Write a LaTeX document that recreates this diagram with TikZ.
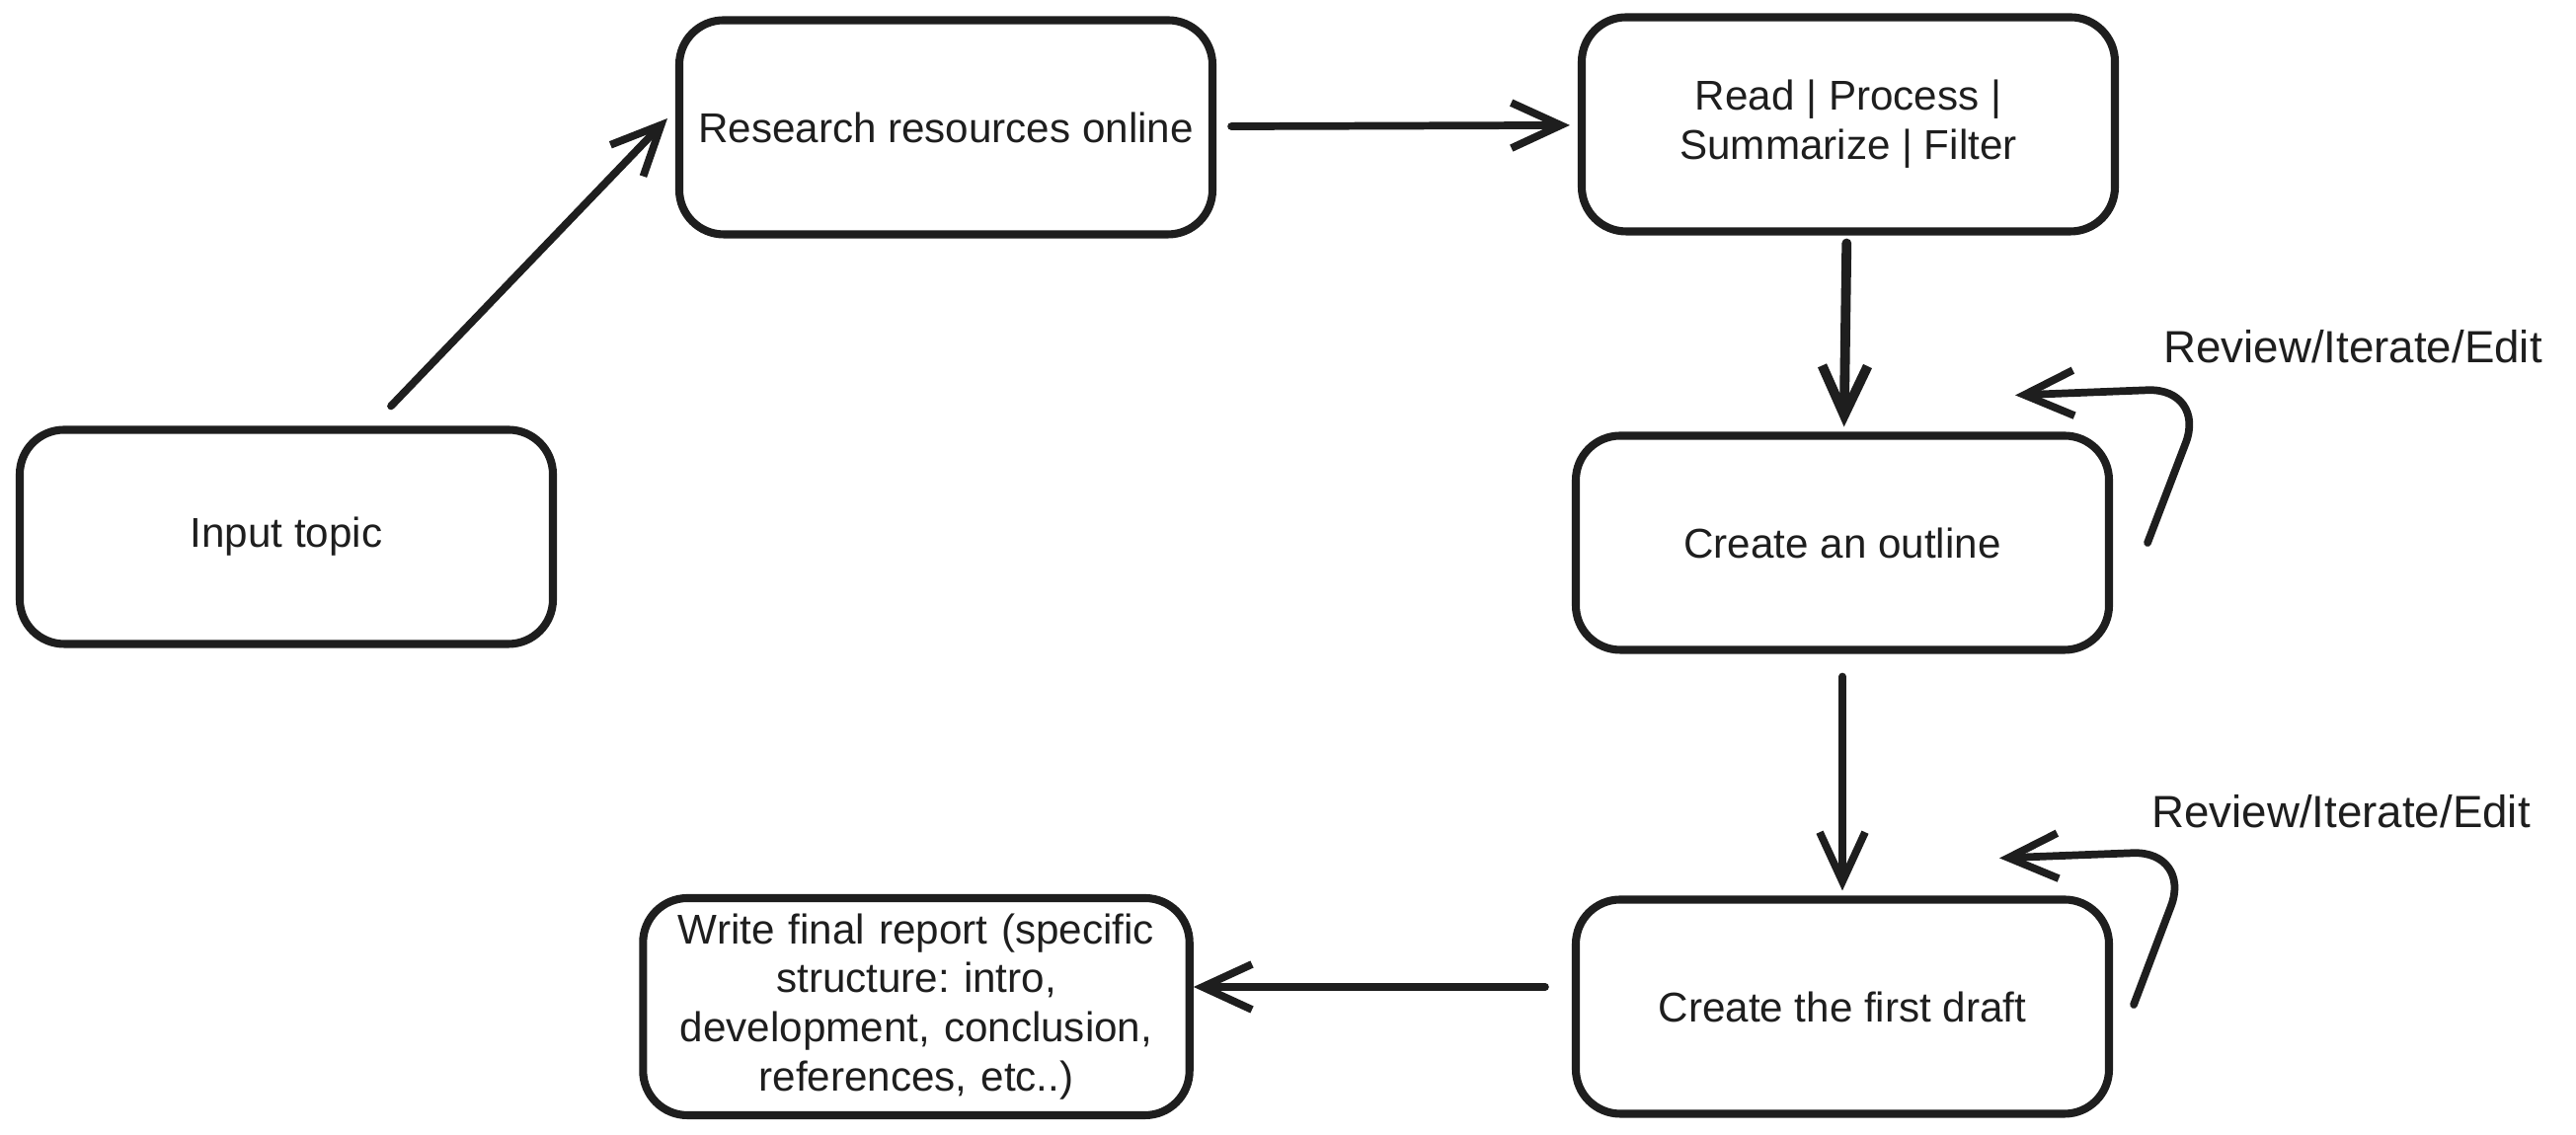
\documentclass[tikz,border=0pt]{standalone}
\usepackage{fontspec}
\setmainfont{Liberation Sans}
\usetikzlibrary{arrows.meta}

\definecolor{ink}{HTML}{1E1E1E}
\tikzset{
    box/.style={draw=ink, line width=2.3pt, rounded corners=4.5mm, minimum width=5.4cm, minimum height=2.17cm, align=center, text=ink, font=\fontsize{12}{14.2}\selectfont},
    flow/.style={draw=ink, line width=2.2pt, line cap=round, -{Straight Barb[length=5mm, width=4.6mm]}},
    note/.style={text=ink, font=\fontsize{13}{15}\selectfont}
}
\frenchspacing

\begin{document}
\begin{tikzpicture}
            \useasboundingbox (0,0) rectangle (26.09,11.5);

            \node[box] (input) at (2.90,6.06) {Input topic};
            \node[box] (research) at (9.58,10.21) {Research resources online};
            \node[box] (read) at (18.72,10.24) {Read | Process |\\Summarize | Filter};
            \node[box] (outline) at (18.66,6.00) {Create an outline};
            \node[box] (draft) at (18.66,1.30) {Create the first draft};
            \node[box, minimum width=5.49cm, minimum height=2.2cm, text width=5.3cm] (final) at (9.28,1.30) {Write final report (specific\\structure: intro,\\development, conclusion,\\references, etc..)};

            \node[note] (review1) at (23.83,7.99) {Review/Iterate/Edit};
            \node[note] (review2) at (23.71,3.28) {Review/Iterate/Edit};

            % main flow
            \draw[flow] ([xshift=1.06cm,yshift=2mm]input.north) -- ([xshift=-0.8mm,yshift=0.9mm]research.west);
            \draw[flow, shorten <=1.5mm, shorten >=0.8mm] (research) -- (read);
            \draw[flow, line width=2.8pt, shorten <=0.8mm, shorten >=0.5mm] (read) -- (outline);
            \draw[flow, shorten <=2.3mm, shorten >=0.5mm] (outline) -- (draft);
            \draw[flow, shorten <=2.7mm] ([yshift=2mm]draft.west) -- ([yshift=2mm]final.east);

            % review loops
            \draw[flow, rounded corners=6mm] ([xshift=3.5mm]outline.east) -- ([xshift=9.5mm,yshift=15.7mm]outline.east) -- ([xshift=-9.9mm,yshift=3.7mm]outline.north east);
            \draw[flow, rounded corners=6mm] ([xshift=2.1mm,yshift=0.2mm]draft.east) -- ([xshift=8mm,yshift=15.8mm]draft.east) -- ([xshift=-11.5mm,yshift=3.8mm]draft.north east);

        \end{tikzpicture}
\end{document}
